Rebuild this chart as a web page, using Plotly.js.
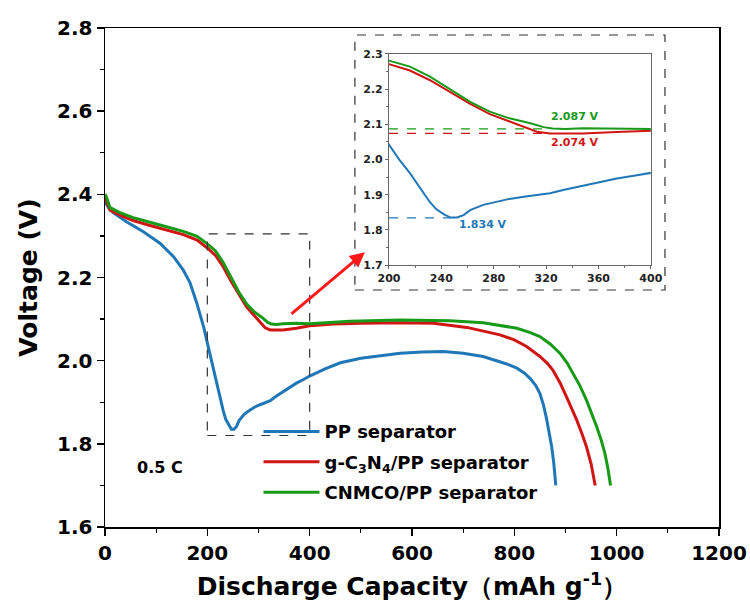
<!DOCTYPE html>
<html>
<head>
<meta charset="utf-8">
<script src="https://cdn.plot.ly/plotly-3.0.1.min.js"></script>
<style>html,body{margin:0;padding:0;background:#fff;}#chart{width:750px;height:610px;}</style>
</head>
<body>
<div id="chart"></div>
<script>
// ---- data ----
const seriesNames = ['PP separator', 'g-C<sub>3</sub>N<sub>4</sub>/PP separator', 'CNMCO/PP separator'];

const ppX = [0, 2, 8, 16, 42, 75, 108, 134, 153, 166, 179, 186, 193, 200, 208, 216, 224, 231, 236, 242, 247, 252, 257, 262, 272, 282, 292, 303, 313, 323, 333, 348, 361, 374, 387, 400, 430, 460, 500, 540, 577, 620, 661, 700, 739, 770, 790, 805, 820, 831, 842, 850, 857, 863, 868, 873, 877, 881];
const ppY = [2.385, 2.378, 2.366, 2.356, 2.334, 2.310, 2.282, 2.250, 2.218, 2.188, 2.140, 2.110, 2.080, 2.043, 1.999, 1.961, 1.918, 1.880, 1.859, 1.844, 1.835, 1.835, 1.842, 1.856, 1.871, 1.880, 1.888, 1.894, 1.899, 1.904, 1.913, 1.925, 1.937, 1.946, 1.954, 1.963, 1.980, 1.995, 2.006, 2.012, 2.018, 2.021, 2.022, 2.018, 2.010, 1.998, 1.990, 1.982, 1.970, 1.957, 1.940, 1.921, 1.893, 1.860, 1.828, 1.793, 1.755, 1.700];

const gcnX = [0, 2, 10, 29, 55, 88, 120, 153, 180, 200, 216, 231, 247, 262, 277, 292, 308, 313, 323, 348, 374, 400, 446, 500, 577, 642, 707, 772, 800, 824, 850, 865, 876, 890, 902, 912, 922, 932, 941, 950, 958];
const gcnY = [2.392, 2.385, 2.362, 2.350, 2.337, 2.325, 2.315, 2.303, 2.290, 2.271, 2.253, 2.226, 2.190, 2.158, 2.129, 2.108, 2.087, 2.079, 2.074, 2.074, 2.078, 2.084, 2.088, 2.090, 2.091, 2.090, 2.080, 2.062, 2.050, 2.034, 2.010, 1.993, 1.976, 1.945, 1.913, 1.886, 1.857, 1.825, 1.793, 1.752, 1.700];

const cnmcoX = [0, 2, 10, 29, 55, 88, 120, 153, 180, 200, 216, 231, 247, 262, 277, 292, 308, 318, 325, 335, 348, 374, 400, 479, 577, 674, 739, 805, 830, 850, 870, 889, 903, 915, 928, 941, 951, 961, 970, 977, 983, 988];
const cnmcoY = [2.400, 2.396, 2.368, 2.356, 2.344, 2.332, 2.322, 2.311, 2.299, 2.281, 2.264, 2.236, 2.198, 2.164, 2.136, 2.117, 2.103, 2.092, 2.088, 2.087, 2.089, 2.090, 2.089, 2.095, 2.098, 2.096, 2.091, 2.078, 2.068, 2.058, 2.040, 2.018, 1.995, 1.970, 1.940, 1.905, 1.874, 1.841, 1.808, 1.777, 1.740, 1.700];

const minLabels = ['1.834 V', '2.074 V', '2.087 V'];
const minValues = [1.834, 2.074, 2.087];
const minEndX = [247, 320, 317];

const colors = ['#1f77b8', '#d01515', '#179a17'];

// ---- traces ----
const xs = [ppX, gcnX, cnmcoX];
const ys = [ppY, gcnY, cnmcoY];
const traces = [];
for (let i = 0; i < 3; i++) {
  traces.push({x: xs[i], y: ys[i], type: 'scatter', mode: 'lines', name: seriesNames[i],
    legendgroup: 'g' + i, line: {color: colors[i], width: 3},
    xaxis: 'x', yaxis: 'y'});
}
for (let i = 0; i < 3; i++) {
  traces.push({x: xs[i], y: ys[i], type: 'scatter', mode: 'lines', showlegend: false,
    line: {color: colors[i], width: 2},
    xaxis: 'x2', yaxis: 'y2', hoverinfo: 'skip'});
}

const F = 'DejaVu Sans, Verdana, sans-serif';

const shapes = [
  {type: 'rect', xref: 'x', yref: 'y', x0: 200, x1: 400, y0: 1.82, y1: 2.305,
   line: {color: '#333', width: 1.2, dash: 'dash'}},
  {type: 'rect', xref: 'paper', yref: 'paper', x0: 0.407, x1: 0.912, y0: 0.475, y1: 0.986,
   line: {color: '#333', width: 1.2, dash: 'dash'}}
];
for (let i = 0; i < 3; i++) {
  shapes.push({type: 'line', xref: 'x2', yref: 'y2', x0: 200, x1: minEndX[i], y0: minValues[i], y1: minValues[i],
    line: {color: colors[i], width: 1.2, dash: 'dash'}});
}

const annotations = [
  {x: 508, y: 2.261, xref: 'x', yref: 'y', text: '', showarrow: true, ax: -75, ay: 63,
   arrowcolor: '#ff1a1a', arrowwidth: 3, arrowhead: 2, arrowsize: 1},
  {x: 107, y: 1.742, xref: 'x', yref: 'y', text: '0.5 C', showarrow: false,
   font: {family: F, size: 16, color: '#000', weight: 'bold'}},
  {x: 342, y: 2.122, xref: 'x2', yref: 'y2', text: minLabels[2], showarrow: false,
   font: {family: F, size: 11, color: colors[2], weight: 'bold'}},
  {x: 342, y: 2.047, xref: 'x2', yref: 'y2', text: minLabels[1], showarrow: false,
   font: {family: F, size: 11, color: colors[1], weight: 'bold'}},
  {x: 272, y: 1.816, xref: 'x2', yref: 'y2', text: minLabels[0], showarrow: false,
   font: {family: F, size: 11, color: colors[0], weight: 'bold'}}
];

const layout = {
  width: 750, height: 610,
  margin: {l: 105, r: 31, t: 28, b: 83},
  paper_bgcolor: '#fff', plot_bgcolor: '#fff',
  font: {family: F, color: '#000'},
  showlegend: true,
  legend: {x: 0.25, y: 0.228, xanchor: 'left', yanchor: 'top', bgcolor: 'rgba(0,0,0,0)',
    font: {family: F, size: 18, color: '#000', weight: 'bold'}, tracegroupgap: 4, itemwidth: 56},
  xaxis: {domain: [0, 1], range: [0, 1200], dtick: 200, tick0: 0, showgrid: false, zeroline: false,
    showline: true, linecolor: '#000', linewidth: 1.5, mirror: true,
    ticks: 'outside', ticklen: 7, tickwidth: 1.5, tickcolor: '#000',
    minor: {dtick: 100, ticks: 'outside', ticklen: 4, tickwidth: 1.2, tickcolor: '#000', showgrid: false},
    tickfont: {family: F, size: 20, color: '#000', weight: 'bold'},
    title: {text: 'Discharge Capacity（mAh g<sup>-1</sup>）', standoff: 14,
      font: {family: F, size: 25, color: '#000', weight: 'bold'}}},
  yaxis: {domain: [0, 1], range: [1.6, 2.8], dtick: 0.2, tick0: 1.6, showgrid: false, zeroline: false,
    showline: true, linecolor: '#000', linewidth: 1.5, mirror: true,
    ticks: 'outside', ticklen: 7, tickwidth: 1.5, tickcolor: '#000', tickformat: '.1f',
    minor: {dtick: 0.1, ticks: 'outside', ticklen: 4, tickwidth: 1.2, tickcolor: '#000', showgrid: false},
    tickfont: {family: F, size: 20, color: '#000', weight: 'bold'},
    title: {text: 'Voltage (V)', standoff: 12,
      font: {family: F, size: 25, color: '#000', weight: 'bold'}}},
  xaxis2: {domain: [0.4625, 0.889], anchor: 'y2', range: [200, 400], dtick: 40, tick0: 200,
    showgrid: false, zeroline: false, showline: true, linecolor: '#666', linewidth: 1, mirror: true,
    ticks: 'outside', ticklen: 3, tickcolor: '#666',
    minor: {dtick: 20, ticks: 'outside', ticklen: 2, tickcolor: '#666', showgrid: false},
    tickfont: {family: F, size: 11, color: '#222', weight: 'bold'}},
  yaxis2: {domain: [0.525, 0.948], anchor: 'x2', range: [1.7, 2.3], dtick: 0.1, tick0: 1.7,
    showgrid: false, zeroline: false, showline: true, linecolor: '#666', linewidth: 1, mirror: true,
    ticks: 'outside', ticklen: 3, tickcolor: '#666', tickformat: '.1f',
    minor: {dtick: 0.05, ticks: 'outside', ticklen: 2, tickcolor: '#666', showgrid: false},
    tickfont: {family: F, size: 11, color: '#222', weight: 'bold'}},
  shapes: shapes,
  annotations: annotations
};

Plotly.newPlot('chart', traces, layout, {displayModeBar: false, staticPlot: true});
</script>
</body>
</html>
